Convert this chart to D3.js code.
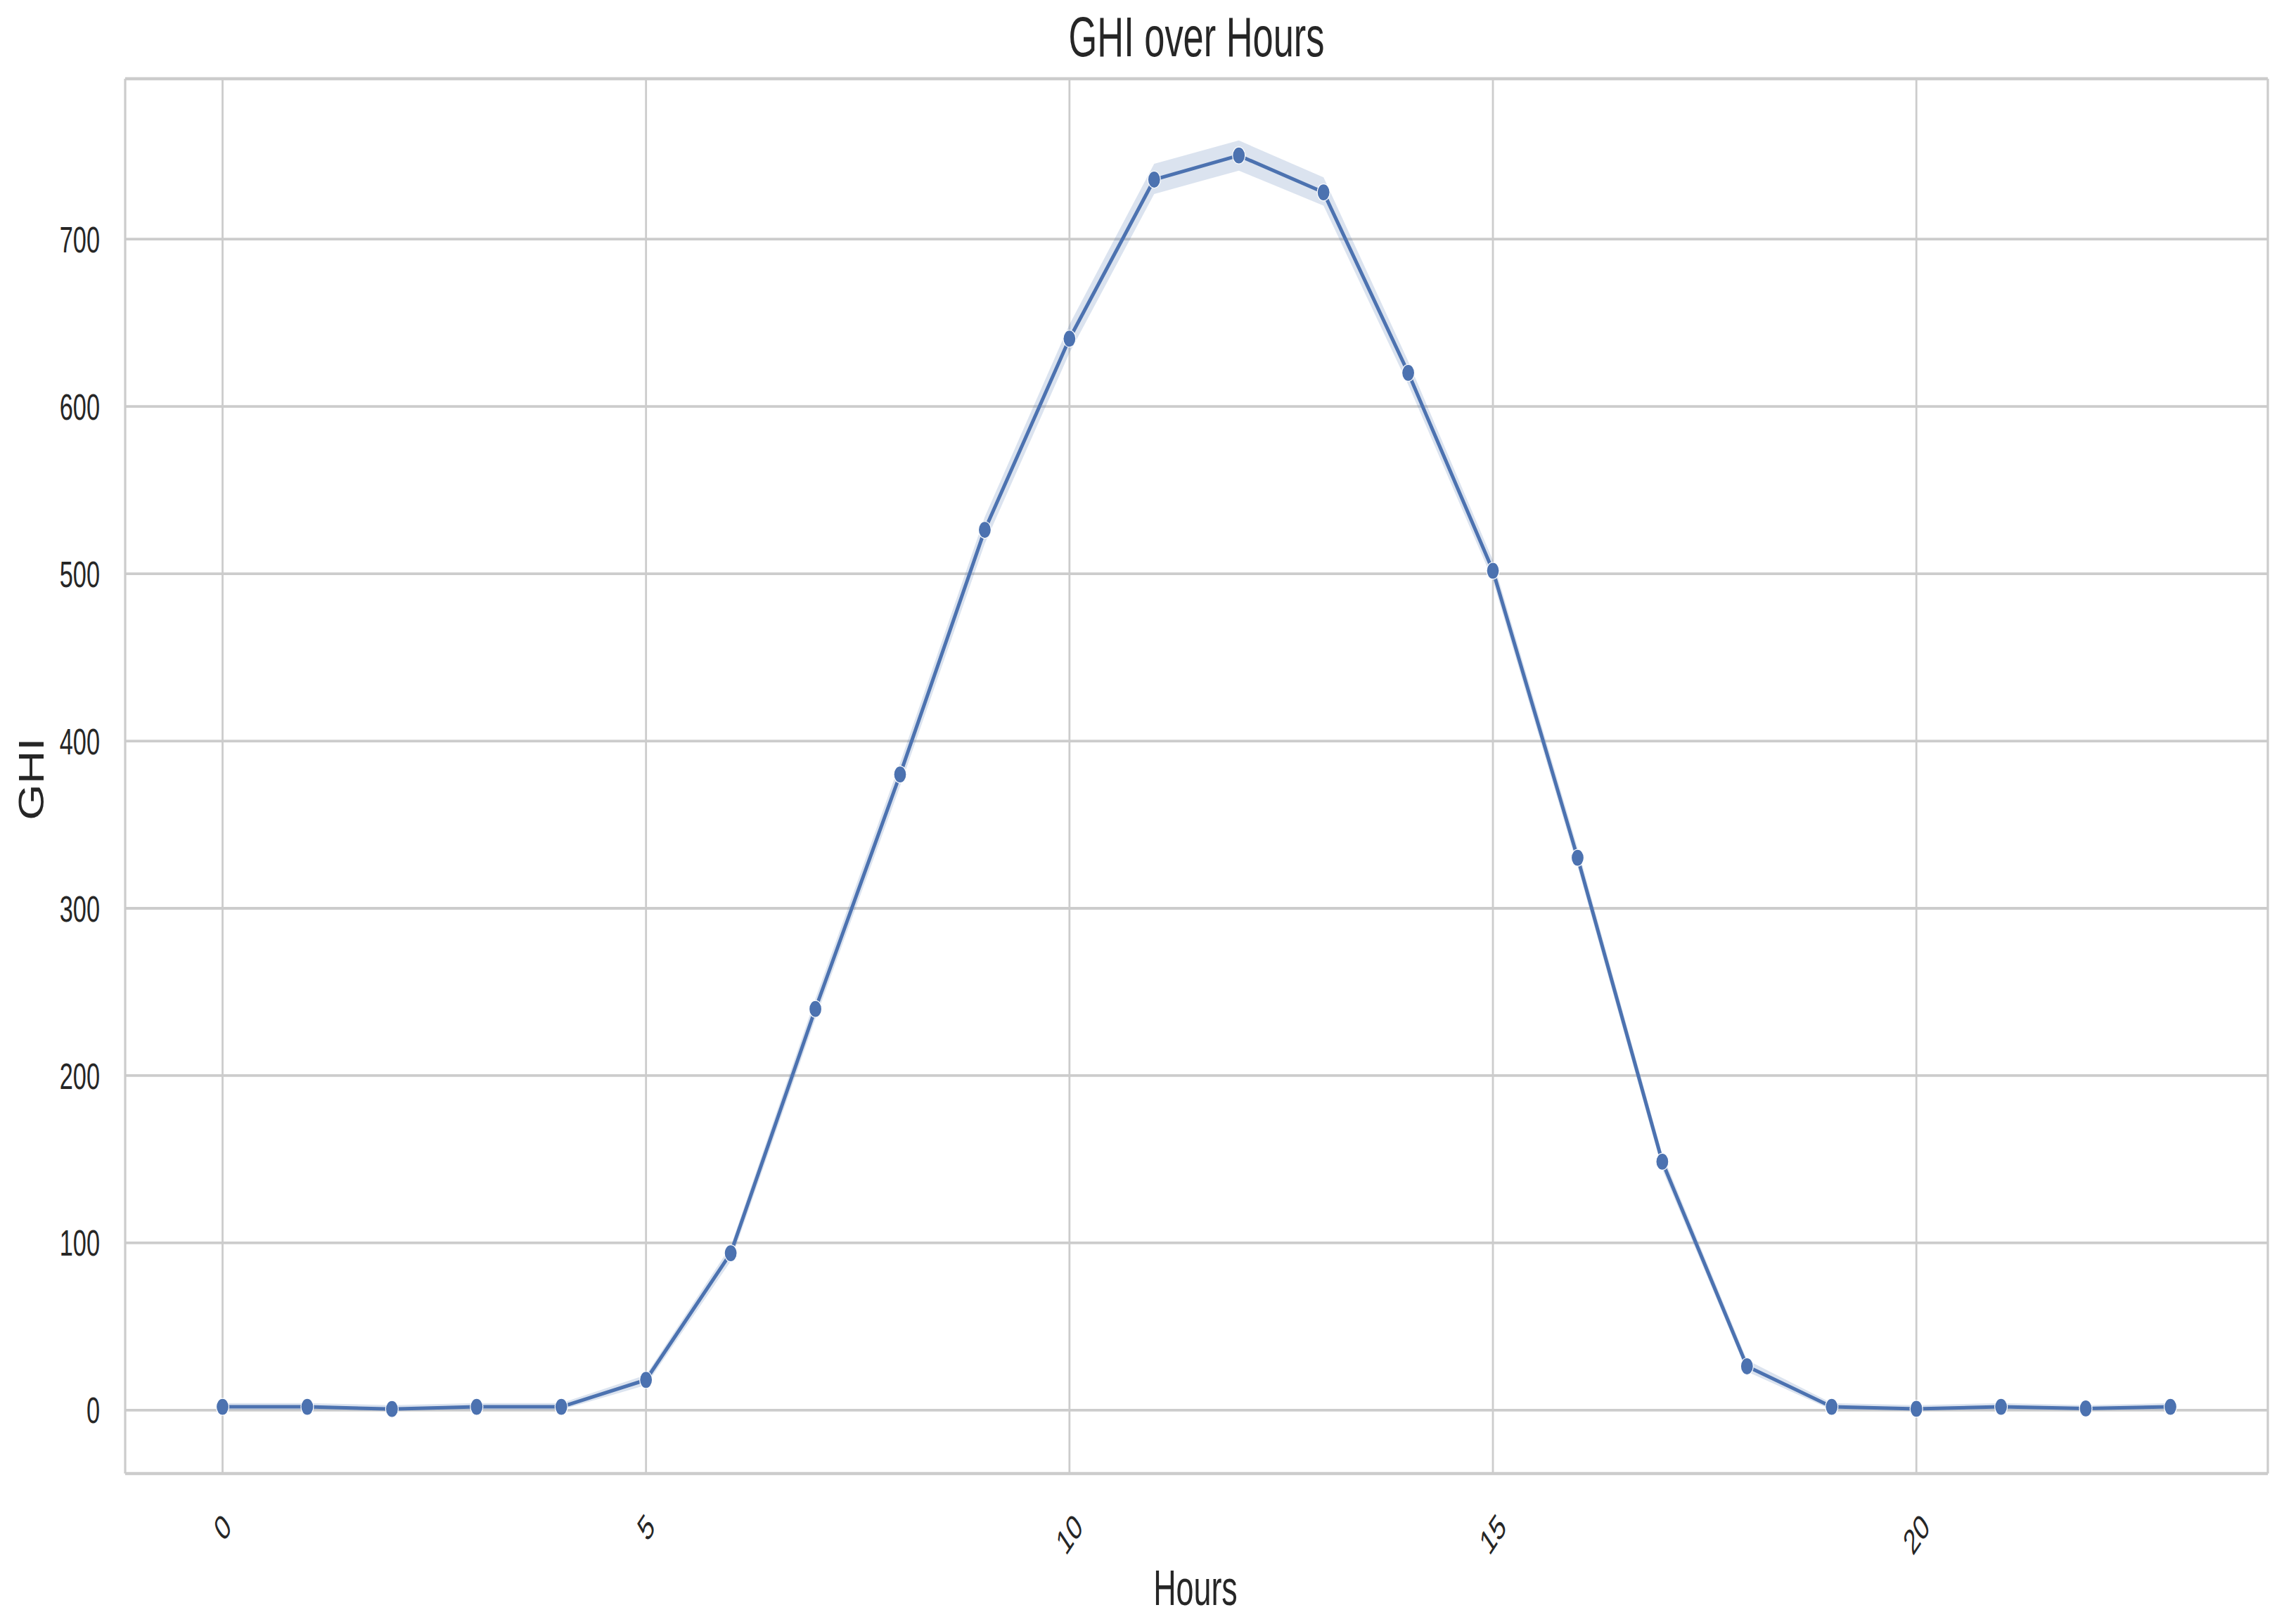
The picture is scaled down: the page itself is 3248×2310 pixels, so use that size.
<!DOCTYPE html>
<html>
<head>
<meta charset="utf-8">
<script src="https://cdn.jsdelivr.net/npm/d3@7"></script>
<style>
  html, body { margin: 0; padding: 0; background: #ffffff; }
  svg { display: block; }
  text { font-family: "Liberation Sans", Arial, sans-serif; }
</style>
</head>
<body>
<svg id="chart" width="3248" height="2310"></svg>
<script>
// ---- data ----
const hours = [0,1,2,3,4,5,6,7,8,9,10,11,12,13,14,15,16,17,18,19,20,21,22,23];
const ghiMean = [2.0,2.0,0.7,2.0,2.0,18.1,93.8,239.8,380.0,526.2,640.5,735.6,750.0,728.0,620.1,501.8,330.2,148.5,26.2,2.0,0.8,2.0,1.0,2.0];
const ciLower = [0.2,0.2,0.0,0.2,0.2,15,89,234,373,518,632,727,741,720,613,496,325,144,23,0.2,0.0,0.2,0.0,0.2];
const ciUpper = [4.2,4.2,3.0,4.2,4.2,21,98,246,387,534,649,745,759,737,627,508,336,153,30,4.2,3.0,4.2,3.0,4.2];
const xTickValues = [0,5,10,15,20];
const yTickValues = [0,100,200,300,400,500,600,700];
const titleText = "GHI over Hours";
const xLabelText = "Hours";
const yLabelText = "GHI";

// ---- layout ----
const W = 3248, H = 2310;
const plot = {left: 178, right: 3225, top: 112, bottom: 2096};
const lineColor = "#4c72b0";
const gridColor = "#cccccc";
const textColor = "#262626";

const x = d3.scaleLinear().domain([-1.15, 24.15]).range([plot.left, plot.right]);
const y = d3.scaleLinear().domain([-37.9, 795.9]).range([plot.bottom, plot.top]);

const svg = d3.select("#chart");
svg.append("rect").attr("width", W).attr("height", H).attr("fill", "#ffffff");

// grid lines
const grid = svg.append("g");
grid.selectAll("line.h").data(yTickValues).join("line")
  .attr("class", "h")
  .attr("x1", plot.left).attr("x2", plot.right)
  .attr("y1", d => y(d)).attr("y2", d => y(d))
  .attr("stroke", gridColor).attr("stroke-width", 3.8);
grid.selectAll("line.v").data(xTickValues).join("line")
  .attr("class", "v")
  .attr("y1", plot.top).attr("y2", plot.bottom)
  .attr("x1", d => x(d)).attr("x2", d => x(d))
  .attr("stroke", gridColor).attr("stroke-width", 2.8);

// frame (spines)
const frame = svg.append("g").attr("stroke", gridColor).attr("fill", "none");
frame.append("line").attr("x1", plot.left).attr("x2", plot.right).attr("y1", plot.top).attr("y2", plot.top).attr("stroke-width", 4.5);
frame.append("line").attr("x1", plot.left).attr("x2", plot.right).attr("y1", plot.bottom).attr("y2", plot.bottom).attr("stroke-width", 4.5);
frame.append("line").attr("x1", plot.left).attr("x2", plot.left).attr("y1", plot.top).attr("y2", plot.bottom).attr("stroke-width", 3.2);
frame.append("line").attr("x1", plot.right).attr("x2", plot.right).attr("y1", plot.top).attr("y2", plot.bottom).attr("stroke-width", 3.2);

// data table
const data = hours.map((h, i) => ({h, m: ghiMean[i], lo: ciLower[i], hi: ciUpper[i]}));

// confidence band
const area = d3.area().x(d => x(d.h)).y0(d => y(d.lo)).y1(d => y(d.hi));
svg.append("path").datum(data).attr("d", area)
  .attr("fill", lineColor).attr("fill-opacity", 0.2).attr("stroke", "none");

// line
const line = d3.line().x(d => x(d.h)).y(d => y(d.m));
svg.append("path").datum(data).attr("d", line)
  .attr("fill", "none").attr("stroke", lineColor).attr("stroke-width", 5)
  .attr("stroke-linejoin", "round").attr("stroke-linecap", "round");

// markers (elliptical as in the reference)
svg.append("g").selectAll("ellipse").data(data).join("ellipse")
  .attr("cx", d => x(d.h)).attr("cy", d => y(d.m))
  .attr("rx", 9).attr("ry", 12)
  .attr("fill", lineColor).attr("stroke", "#ffffff").attr("stroke-width", 1.2);

// y tick labels
const yFont = 52, ySx = 0.66;
svg.append("g").selectAll("text").data(yTickValues).join("text")
  .attr("transform", d => `translate(142,${y(d) + 0.358 * yFont}) scale(${ySx},1)`)
  .attr("text-anchor", "end")
  .attr("font-size", yFont)
  .attr("fill", textColor)
  .text(d => d3.format("d")(d));

// x tick labels (rotated)
const xFont = 50, xSx = 0.66, xTop = 2143;
const xt = svg.append("g");
xTickValues.forEach(v => {
  const t = xt.append("text")
    .attr("text-anchor", "middle")
    .attr("dominant-baseline", "central")
    .attr("font-size", xFont)
    .attr("fill", textColor)
    .attr("transform", `translate(${x(v)},2180) scale(${xSx},1) rotate(-45)`)
    .text(d3.format("d")(v));
  const r = t.node().getBoundingClientRect();
  const dx = x(v) - (r.left + r.right) / 2;
  const dy = xTop - r.top;
  t.attr("transform", `translate(${x(v) + dx},${2180 + dy}) scale(${xSx},1) rotate(-45)`);
});

// title
svg.append("text")
  .attr("transform", `translate(${(plot.left + plot.right) / 2},80) scale(0.655,1)`)
  .attr("text-anchor", "middle").attr("font-size", 80).attr("fill", textColor)
  .text(titleText);

// x label
svg.append("text")
  .attr("transform", `translate(1700,2283) scale(0.64,1)`)
  .attr("text-anchor", "middle").attr("font-size", 70).attr("fill", textColor)
  .text(xLabelText);

// y label
svg.append("text")
  .attr("transform", `translate(62,1108) scale(0.75,1) rotate(-90)`)
  .attr("text-anchor", "middle").attr("font-size", 66).attr("fill", textColor)
  .text(yLabelText);
</script>
</body>
</html>
